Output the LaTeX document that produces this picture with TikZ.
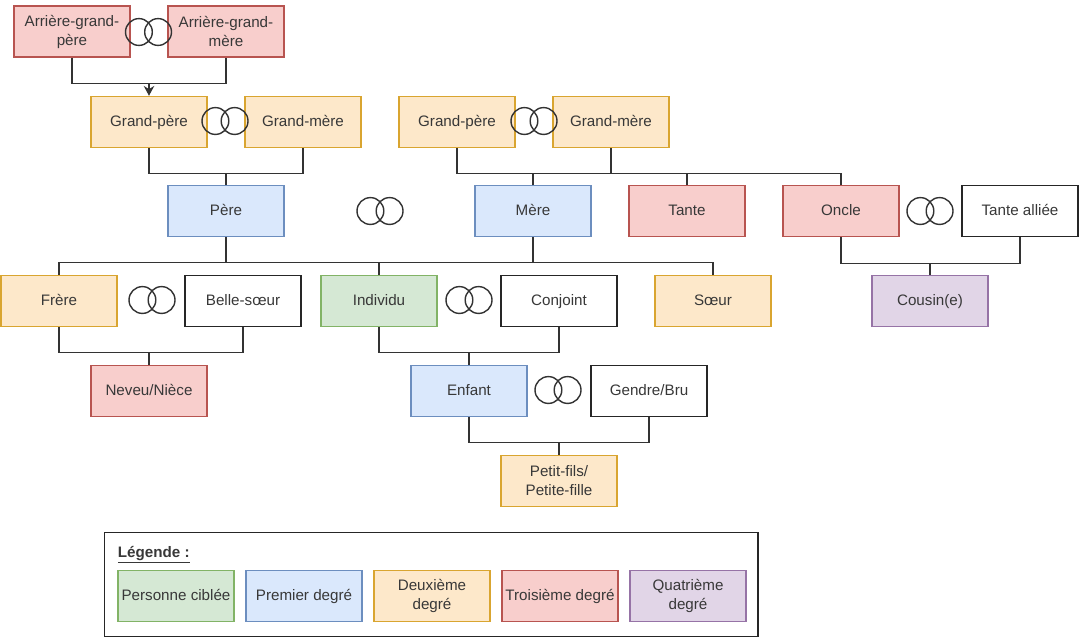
\documentclass[tikz,border=0pt]{standalone}
\usepackage{fontspec}
\setmainfont{Liberation Sans}
\usetikzlibrary{arrows.meta}
\definecolor{vertF}{HTML}{D5E8D4}\definecolor{vertD}{HTML}{82B366}
\definecolor{bleuF}{HTML}{DAE8FC}\definecolor{bleuD}{HTML}{6C8EBF}
\definecolor{orangeF}{HTML}{FDE8CA}\definecolor{orangeD}{HTML}{D9A530}
\definecolor{rougeF}{HTML}{F8CECC}\definecolor{rougeD}{HTML}{B85450}
\definecolor{violetF}{HTML}{E1D5E7}\definecolor{violetD}{HTML}{9673A6}
\begin{document}
\begin{tikzpicture}[x=0.025cm,y=-0.025cm,
  box/.style={draw=black!85,fill=white,line width=0.9pt,minimum width=2.9cm,minimum height=1.28cm,inner sep=1pt,align=center,text=black!78,text height=1.6ex,text depth=.5ex,font=\fontsize{10.8}{13.5}\selectfont},
  deuxl/.style={text height={},text depth={}},
  cible/.style={box,draw=vertD,fill=vertF},
  premier/.style={box,draw=bleuD,fill=bleuF},
  deuxieme/.style={box,draw=orangeD,fill=orangeF},
  troisieme/.style={box,draw=rougeD,fill=rougeF},
  quatrieme/.style={box,draw=violetD,fill=violetF},
  lien/.style={draw=black!80,line width=1pt},
  pics/alliance/.style={code={\draw[lien] (-0.24cm,0) circle[radius=0.335cm]; \draw[lien] (0.24cm,0) circle[radius=0.335cm];}}]
\useasboundingbox (0,0) rectangle (1080,640);

\node[troisieme,deuxl] (agp) at (72,31.5) {Arrière-grand-\\père};
\node[troisieme,deuxl] (agm) at (226,31.5) {Arrière-grand-\\mère};
\node[deuxieme] (gp1) at (149,122) {Grand-père};
\node[deuxieme] (gm1) at (303,122) {Grand-mère};
\node[deuxieme] (gp2) at (457,122) {Grand-père};
\node[deuxieme] (gm2) at (611,122) {Grand-mère};

\node[premier] (pere) at (226,211) {Père};
\node[premier] (mere) at (533,211) {Mère};
\node[troisieme] (tante) at (687,211) {Tante};
\node[troisieme] (oncle) at (841,211) {Oncle};
\node[box] (tantea) at (1020,211) {Tante alliée};

\node[deuxieme] (frere) at (59,301) {Frère};
\node[box] (belle) at (243,301) {Belle-sœur};
\node[cible] (indiv) at (379,301) {Individu};
\node[box] (conjoint) at (559,301) {Conjoint};
\node[deuxieme] (soeur) at (713,301) {Sœur};
\node[quatrieme] (cousin) at (930,301) {Cousin(e)};

\node[troisieme] (neveu) at (149,391) {Neveu/Nièce};
\node[premier] (enfant) at (469,391) {Enfant};
\node[box] (gendre) at (649,391) {Gendre/Bru};
\node[deuxieme,deuxl] (petit) at (559,481) {Petit-fils/\\Petite-fille};

% alliances
\pic at (148.5,32) {alliance};
\pic at (225,121) {alliance};
\pic at (534,121) {alliance};
\pic at (380,211) {alliance};
\pic at (930,211) {alliance};
\pic at (152,300) {alliance};
\pic at (469,300) {alliance};
\pic at (558,390) {alliance};

% liens
\coordinate (j0) at (149,83);
\draw[lien] (agp.south) -- ++(0,26) -| (agm.south);
\draw[lien,-{Stealth[length=7pt,width=7.5pt]}] (j0) -- (gp1.north);
\draw[lien] (gp1.south) -- ++(0,25) -| (gm1.south);
\draw[lien] (pere.north) -- ++(0,-12);
\draw[lien] (gp2.south) -- ++(0,25) -| (oncle.north);
\draw[lien] (gm2.south) -- ++(0,25);
\draw[lien] (mere.north) -- ++(0,-12);
\draw[lien] (tante.north) -- ++(0,-12);

\draw[lien] (frere.north) -- ++(0,-12) -| (soeur.north);
\draw[lien] (pere.south) -- ++(0,26);
\draw[lien] (mere.south) -- ++(0,26);
\draw[lien] (indiv.north) -- ++(0,-12);
\draw[lien] (oncle.south) -- ++(0,26) -| (tantea.south);
\draw[lien] (cousin.north) -- ++(0,-12);

\draw[lien] (frere.south) -- ++(0,25) -| (belle.south);
\draw[lien] (neveu.north) -- ++(0,-13);
\draw[lien] (indiv.south) -- ++(0,25) -| (conjoint.south);
\draw[lien] (enfant.north) -- ++(0,-13);
\draw[lien] (enfant.south) -- ++(0,25) -| (gendre.south);
\draw[lien] (petit.north) -- ++(0,-13);

% legende
\node[draw=black!85,line width=1pt,minimum width=16.33cm,minimum height=2.6cm,anchor=north west,inner sep=0] (legende) at (104,532) {};
\node[anchor=west,text=black!78,font=\fontsize{10.8}{13.5}\selectfont] (titre) at (113,555) {\underline{\textbf{Légende :}}};
\node[cible] (l1) at (176,596) {Personne ciblée};
\node[premier] (l2) at (304,596) {Premier degré};
\node[deuxieme,deuxl] (l3) at (432,596) {Deuxième\\degré};
\node[troisieme] (l4) at (560,596) {Troisième degré};
\node[quatrieme,deuxl] (l5) at (688,596) {Quatrième\\degré};
\end{tikzpicture}
\end{document}
